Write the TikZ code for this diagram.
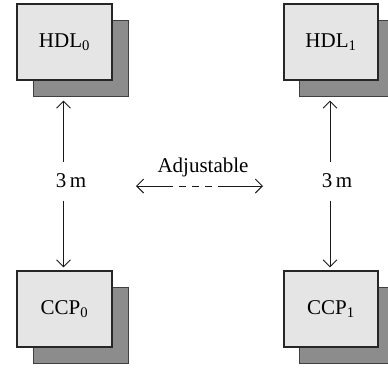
\documentclass[tikz,border=0pt]{standalone}
\usepackage{fontspec}
\setmainfont{Liberation Serif}
\usetikzlibrary{arrows.meta}
\begin{document}
\begin{tikzpicture}[x=1pt,y=-1pt,
  front/.style={draw=black!85,line width=1.2pt,fill=black!10,minimum width=95pt,minimum height=76pt,inner sep=0pt,font=\fontsize{21}{25}\selectfont},
  shadowbox/.style={draw=black!75,line width=1pt,fill=black!45,minimum width=95pt,minimum height=76pt,inner sep=0pt},
  lbl/.style={font=\fontsize{21}{25}\selectfont,inner sep=0pt},
  arr/.style={line width=0.9pt,draw=black!90,-{Straight Barb[length=7pt,width=14pt,line width=0.9pt]}},
  dashline/.style={line width=0.9pt,draw=black!90,dash pattern=on 7pt off 6pt,dash phase=7pt}]
\useasboundingbox (0,0) rectangle (388,368);
% shadows
\node[shadowbox] (h0s) at (80.5,58) {};
\node[shadowbox] (h1s) at (347,58) {};
\node[shadowbox] (c0s) at (80.5,325) {};
\node[shadowbox] (c1s) at (347,325) {};
% front boxes
\node[front] (h0) at (64.5,42) {HDL\textsubscript{0}};
\node[front,minimum width=94pt] (h1) at (331,42) {HDL\textsubscript{1}};
\node[front] (c0) at (64.5,309) {CCP\textsubscript{0}};
\node[front,minimum width=94pt] (c1) at (331,309) {CCP\textsubscript{1}};
% distance labels
\node[lbl] (m0) at (71,181) {3\,m};
\node[lbl] (m1) at (337,181) {3\,m};
% vertical arrows
\draw[arr] ([xshift=-1pt,yshift=-81pt]h0.south) -- ([xshift=-1pt,yshift=-20pt]h0.south);
\draw[arr] ([xshift=-1pt,yshift=-120pt]h0.south) -- ([xshift=-1pt,yshift=3pt]c0.north);
\draw[arr] ([xshift=-1pt,yshift=-81pt]h1.south) -- ([xshift=-1pt,yshift=-20pt]h1.south);
\draw[arr] ([xshift=-1pt,yshift=-120pt]h1.south) -- ([xshift=-1pt,yshift=3pt]c1.north);
% adjustable
\node[lbl,anchor=base] (adj) at (203,172) {Adjustable};
\coordinate (aL) at (136,186);
\coordinate (dL) at (173,186);
\coordinate (dR) at (218,186);
\coordinate (aR) at (263,186);
\draw[arr] (dL) -- (aL);
\draw[dashline] (dL) -- (dR);
\draw[arr] (dR) -- (aR);
\end{tikzpicture}
\end{document}
